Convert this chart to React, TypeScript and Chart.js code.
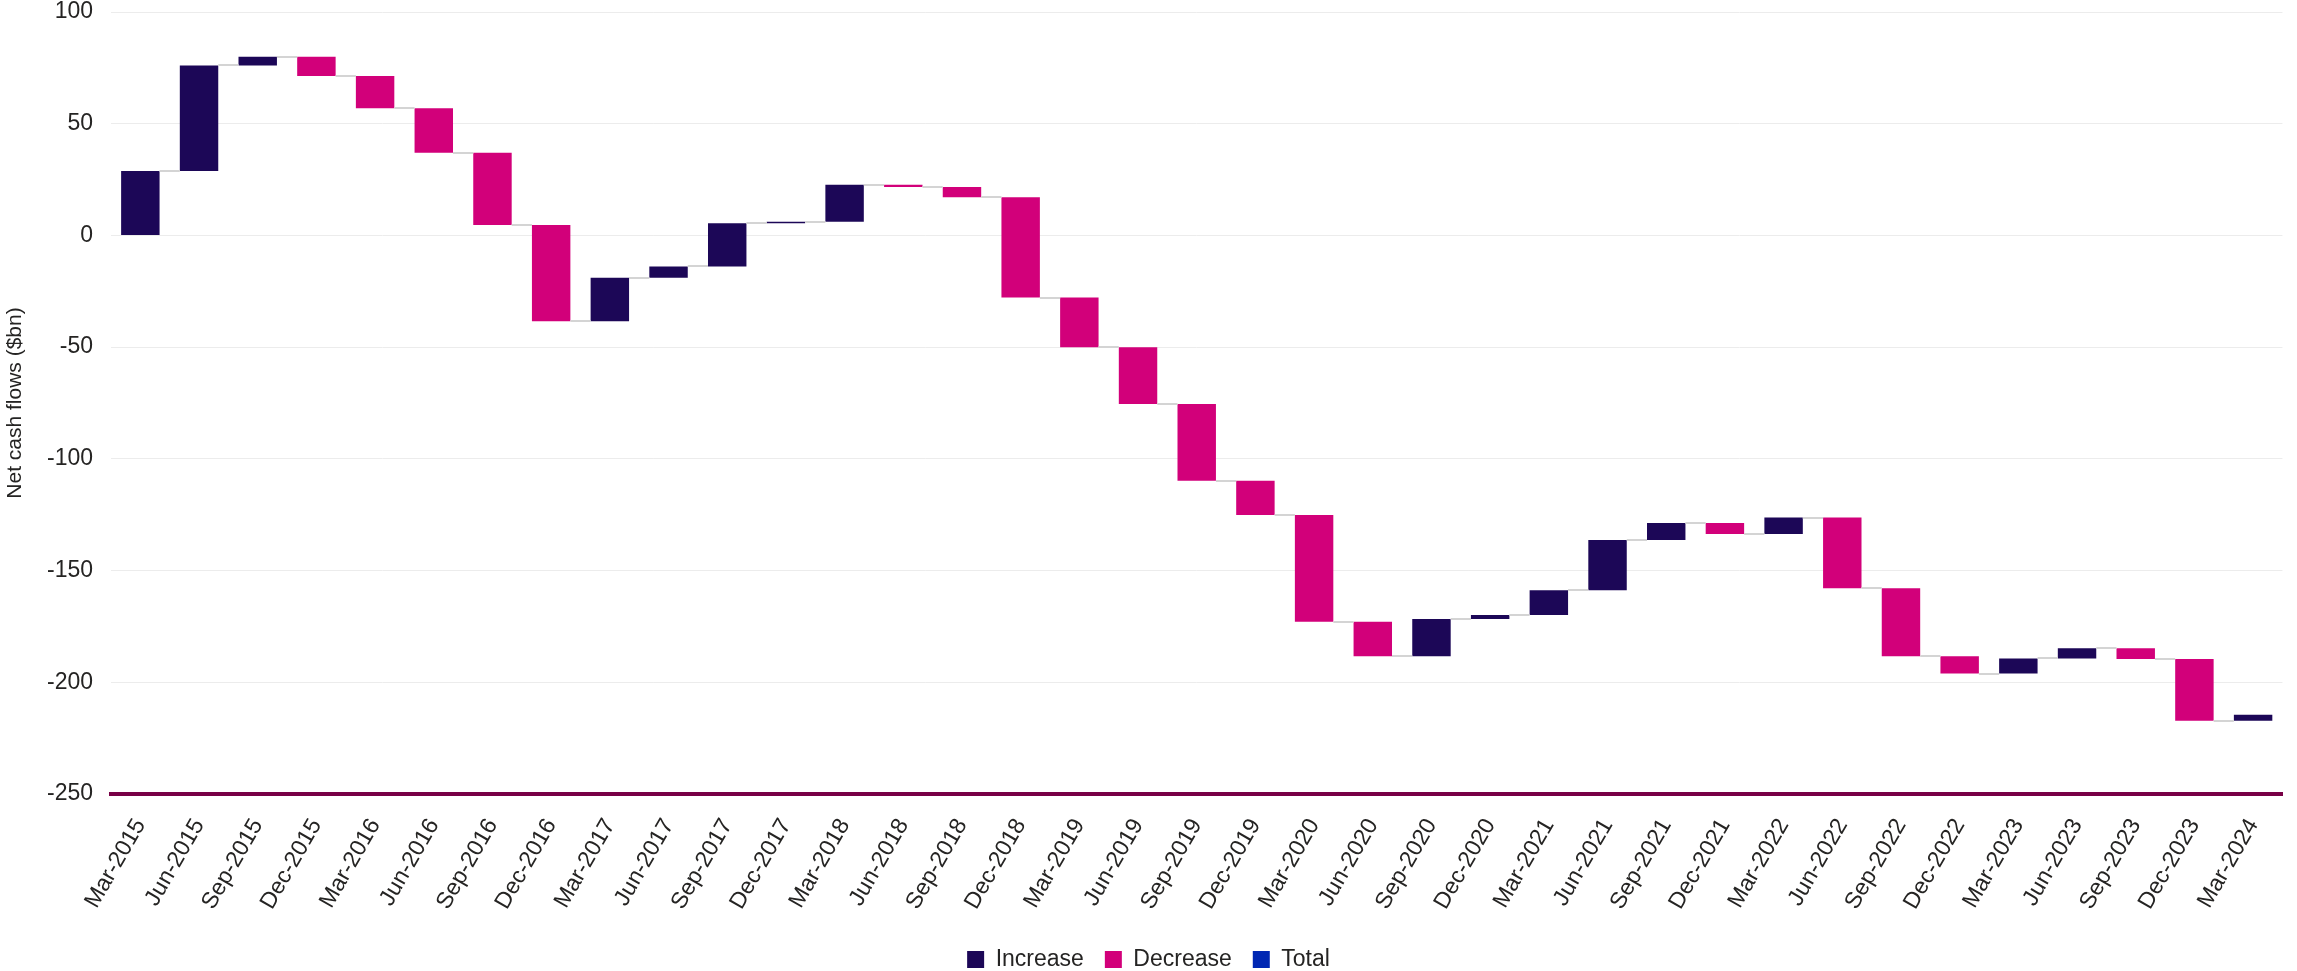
import { useEffect, useRef } from "react";
import { Chart, registerables } from "chart.js";

Chart.register(...registerables);

// Quarter-end labels
const quarters = [
  "Mar-2015", "Jun-2015", "Sep-2015", "Dec-2015",
  "Mar-2016", "Jun-2016", "Sep-2016", "Dec-2016",
  "Mar-2017", "Jun-2017", "Sep-2017", "Dec-2017",
  "Mar-2018", "Jun-2018", "Sep-2018", "Dec-2018",
  "Mar-2019", "Jun-2019", "Sep-2019", "Dec-2019",
  "Mar-2020", "Jun-2020", "Sep-2020", "Dec-2020",
  "Mar-2021", "Jun-2021", "Sep-2021", "Dec-2021",
  "Mar-2022", "Jun-2022", "Sep-2022", "Dec-2022",
  "Mar-2023", "Jun-2023", "Sep-2023", "Dec-2023",
  "Mar-2024",
];

// Net cash flow for each quarter ($bn)
const flows = [
  28.8, 47.3, 3.9, -8.7,
  -14.4, -19.9, -32.3, -43.1,
  19.5, 5.0, 19.3, 0.7,
  16.6, -1.0, -4.6, -44.9,
  -22.2, -25.4, -34.4, -15.3,
  -47.8, -15.5, 16.7, 1.8,
  11.1, 22.5, 7.6, -4.9,
  7.3, -31.6, -30.5, -7.7,
  6.8, 4.5, -4.8, -27.6,
  2.7,
];

// Y axis range and tick step
const yMin = -250;
const yMax = 100;
const yStep = 50;

const legendItems = ["Increase", "Decrease", "Total"];

const COLORS: Record<string, string> = {
  Increase: "#1c0757",
  Decrease: "#d2007a",
  Total: "#0027b3",
};

const TEXT = "#252423";
const FONT = "'Liberation Sans', Arial, sans-serif";

// running level after each quarter, and the floating [start, end] of each bar
const levels: number[] = [];
flows.reduce((acc, f) => {
  const next = acc + f;
  levels.push(next);
  return next;
}, 0);
const bars = flows.map((f, i) => [i === 0 ? 0 : levels[i - 1], levels[i]]);

// thin grey steps joining each bar to the next one
const connectorPlugin = {
  id: "connectors",
  afterDatasetsDraw(chart: any) {
    const meta = chart.getDatasetMeta(0);
    const y = chart.scales.y;
    const ctx = chart.ctx;
    ctx.save();
    ctx.strokeStyle = "#d4d4d4";
    ctx.lineWidth = 2;
    for (let i = 0; i < meta.data.length - 1; i++) {
      const a = meta.data[i];
      const b = meta.data[i + 1];
      const py = Math.round(y.getPixelForValue(levels[i]));
      ctx.beginPath();
      ctx.moveTo(a.x + a.width / 2, py);
      ctx.lineTo(b.x - b.width / 2, py);
      ctx.stroke();
    }
    ctx.restore();
  },
};

export default function App() {
  const canvasRef = useRef<HTMLCanvasElement | null>(null);

  useEffect(() => {
    if (!canvasRef.current) return;
    const chart = new Chart(canvasRef.current, {
      type: "bar",
      data: {
        labels: quarters,
        datasets: [
          {
            label: "Net cash flows",
            data: bars as any,
            backgroundColor: flows.map((f) => (f >= 0 ? COLORS.Increase : COLORS.Decrease)),
            borderWidth: 0,
            barPercentage: 0.655,
            categoryPercentage: 1,
          },
        ],
      },
      options: {
        animation: false,
        responsive: false,
        layout: { padding: { top: 0, right: 0, left: 0, bottom: -10 } },
        plugins: {
          tooltip: { enabled: false },
          legend: {
            position: "bottom",
            onClick: () => {},
            labels: {
              boxWidth: 17,
              boxHeight: 17,
              padding: 21,
              color: TEXT,
              font: { family: FONT, size: 23 },
              generateLabels: () =>
                legendItems.map((name, i) => ({
                  text: name,
                  fillStyle: COLORS[name],
                  strokeStyle: COLORS[name],
                  lineWidth: 0,
                  hidden: false,
                  datasetIndex: 0,
                  index: i,
                  fontColor: TEXT,
                })),
            },
          },
        },
        scales: {
          x: {
            grid: { display: false, drawTicks: false },
            border: { display: true, color: "#780046", width: 4 },
            ticks: {
              autoSkip: false,
              minRotation: 60,
              maxRotation: 60,
              padding: 20,
              color: TEXT,
              font: { family: FONT, size: 23 },
            },
            afterFit: (scale: any) => {
              scale.height = 133;
            },
          },
          y: {
            min: yMin,
            max: yMax,
            grid: { color: "#ececec", lineWidth: 1, drawTicks: false },
            border: { display: false },
            ticks: {
              stepSize: yStep,
              padding: 18,
              color: TEXT,
              font: { family: FONT, size: 23, lineHeight: 1.07 },
            },
            title: {
              display: true,
              text: "Net cash flows ($bn)",
              color: TEXT,
              font: { family: FONT, size: 21 },
              padding: { top: 3, bottom: 0 },
            },
            afterFit: (scale: any) => {
              scale.width = 111;
              scale.paddingTop = 12;
              scale.paddingBottom = 0;
            },
          },
        },
      },
      plugins: [connectorPlugin],
    });
    return () => chart.destroy();
  }, []);

  return (
    <div style={{ position: "fixed", left: 0, top: 0, width: 2297, height: 971, background: "#fff" }}>
      <canvas ref={canvasRef} width={2297} height={971} style={{ display: "block" }} />
    </div>
  );
}
